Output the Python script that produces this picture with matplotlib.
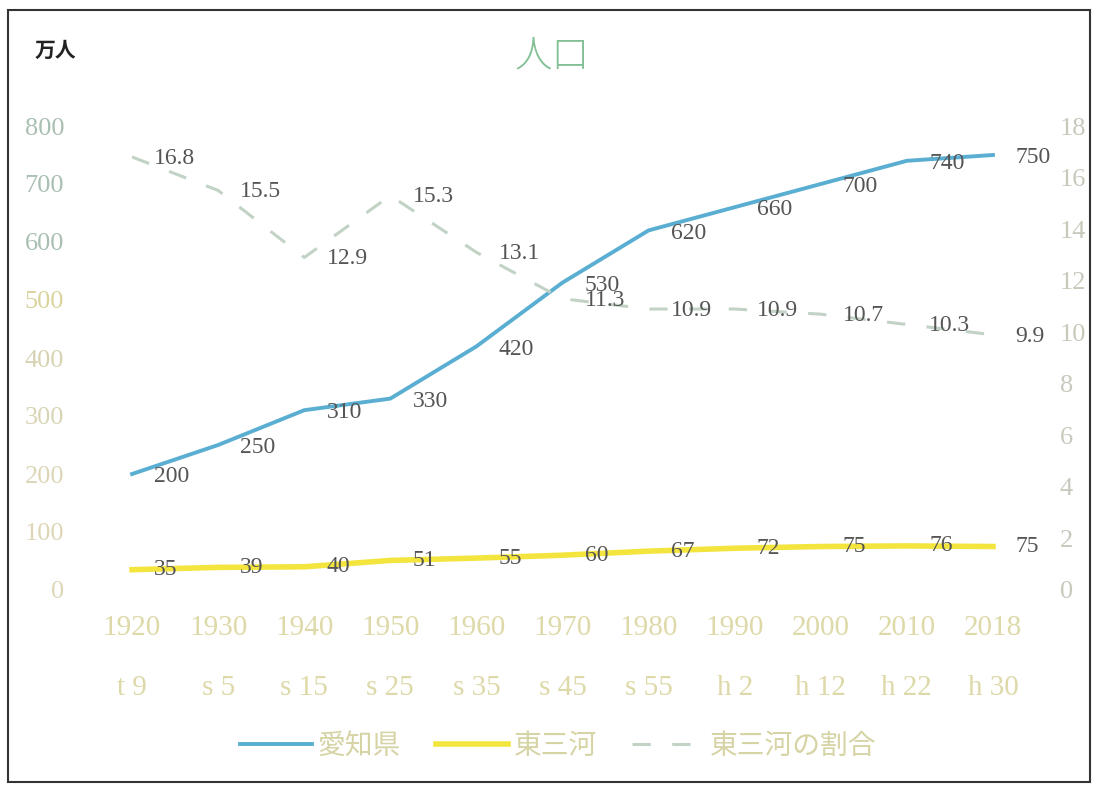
import matplotlib.pyplot as plt
from matplotlib.patches import Rectangle
import matplotlib.transforms as mtransforms

plt.rcParams['font.family'] = ['Liberation Serif', 'Noto Sans CJK JP', 'DejaVu Sans']

# data
years = ['1920', '1930', '1940', '1950', '1960', '1970', '1980', '1990', '2000', '2010', '2018']
eras = ['t 9', 's 5', 's 15', 's 25', 's 35', 's 45', 's 55', 'h 2', 'h 12', 'h 22', 'h 30']
aichi = [200, 250, 310, 330, 420, 530, 620, 660, 700, 740, 750]
higashi = [35, 39, 40, 51, 55, 60, 67, 72, 75, 76, 75]
ratio = [16.8, 15.5, 12.9, 15.3, 13.1, 11.3, 10.9, 10.9, 10.7, 10.3, 9.9]

left_ticks = [0, 100, 200, 300, 400, 500, 600, 700, 800]
right_ticks = [0, 2, 4, 6, 8, 10, 12, 14, 16, 18]

blue = '#5aaed2'
yellow = '#f3e53e'
sage = '#c2d3c6'
label_col = '#555555'
pale = '#ddd9a8'
left_tick_cols = ['#dcd6b6', '#dcd6b6', '#dcd6b6', '#d8d4b4', '#d6d2b2',
                  '#d8d49c', '#a9bfb1', '#a9bfb1', '#a9bfb1']

fig = plt.figure(figsize=(10.96, 7.89), dpi=100)
ax = fig.add_axes([89 / 1096, 1 - 590 / 789, (1036 - 89) / 1096, (590 - 126) / 789])
ax2 = ax.twinx()

x = list(range(len(years)))
l1, = ax.plot(x, aichi, color=blue, linewidth=2.8, label='愛知県', zorder=3)
l2, = ax.plot(x, higashi, color=yellow, linewidth=4, label='東三河', zorder=3)
l3, = ax2.plot(x, ratio, color=sage, linewidth=2.2, dashes=(6, 7), label='東三河の割合')

for i in x:
    ax.annotate(str(aichi[i]), (i, aichi[i]), xytext=(16, -2), textcoords='offset points',
                ha='left', va='center', fontsize=17, color=label_col, zorder=5)
    ax.annotate(str(higashi[i]), (i, higashi[i]), xytext=(16, 0), textcoords='offset points',
                ha='left', va='center', fontsize=17, color=label_col, zorder=5)
    ax2.annotate(str(ratio[i]), (i, ratio[i]), xytext=(16, -1), textcoords='offset points',
                 ha='left', va='center', fontsize=17, color=label_col)

ax.set_xlim(-0.5, len(years) - 0.5)
ax.set_ylim(0, 800)
ax2.set_ylim(0, 18)
ax.set_yticks(left_ticks)
ax2.set_yticks(right_ticks)
ax.set_xticks(x)
ax.set_xticklabels(years)

ax.tick_params(axis='y', length=0, pad=18, labelsize=19)
for lab, c in zip(ax.get_yticklabels(), left_tick_cols):
    lab.set_color(c)
ax2.tick_params(axis='y', length=0, pad=17, labelsize=19, labelcolor='#c8c8bc')
ax.tick_params(axis='x', length=0, pad=18, labelsize=21, labelcolor=pale)

# second row of category labels (japanese eras)
trans = mtransforms.blended_transform_factory(ax.transData, fig.transFigure)
for i, e in enumerate(eras):
    ax.text(i, 1 - 688 / 789, e, transform=trans, ha='center', va='center',
            fontsize=21, color=pale)

for a in (ax, ax2):
    for s in a.spines.values():
        s.set_visible(False)

fig.text(552 / 1096, 1 - 57 / 789, '人口', ha='center', va='center',
         fontsize=27, fontweight='light', color='#84c095')
fig.text(35 / 1096, 1 - 52 / 789, '万人', ha='left', va='center',
         fontsize=15, fontweight='bold', color='#222222')

leg = fig.legend(handles=[l1, l2, l3], loc='center', bbox_to_anchor=(558 / 1096, 1 - 747 / 789),
                 ncol=3, frameon=False, fontsize=20, handlelength=2.6, handletextpad=0.2,
                 columnspacing=1.25)
for t in leg.get_texts():
    t.set_color('#d6d3a4')

fig.patches.append(Rectangle((8 / 1096, 1 - 782 / 789), 1082 / 1096, 772 / 789,
                             transform=fig.transFigure, fill=False,
                             edgecolor='#333333', linewidth=1.5))

fig.savefig('out.png', dpi=100)
